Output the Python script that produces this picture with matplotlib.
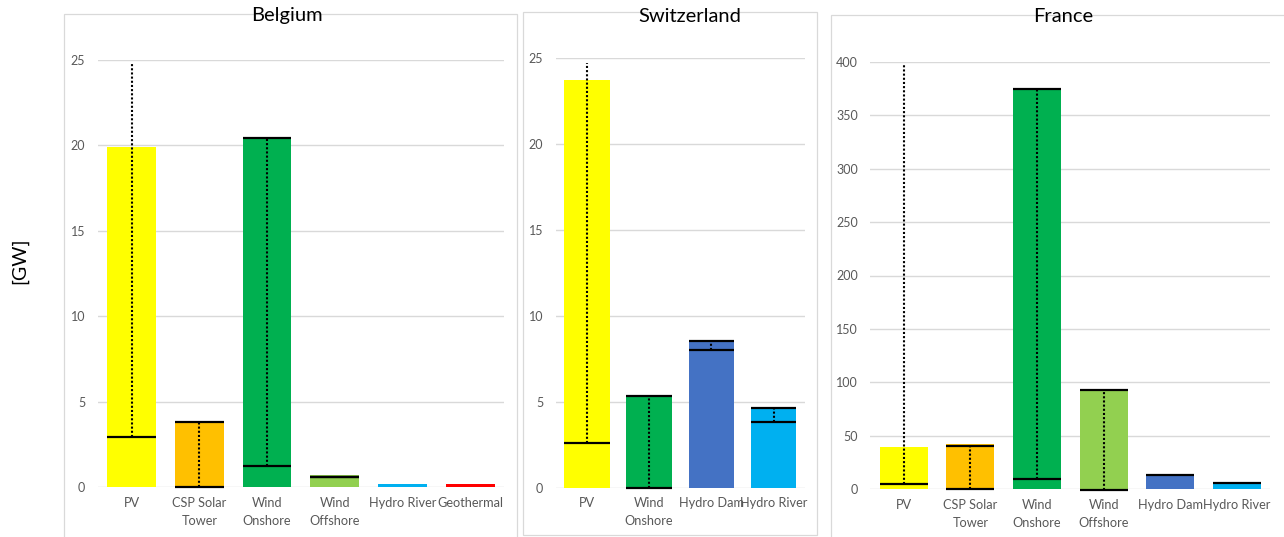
import numpy as np
import matplotlib
matplotlib.use("Agg")
import matplotlib.pyplot as plt
from matplotlib.patches import Rectangle

plt.rcParams['font.family'] = ['Lato', 'DejaVu Sans']

# ---------------- data ----------------
nan = np.nan
cats_be = ["PV", "CSP Solar\nTower", "Wind\nOnshore", "Wind\nOffshore", "Hydro River", "Geothermal"]
val_be = [19.87, 3.81, 20.41, 0.68, 0.16, 0.18]
lo_be = [2.92, 0.0, 1.24, 0.58, nan, nan]
hi_be = [24.74, 3.78, 20.41, 0.58, nan, nan]
hicap_be = [False, True, True, True, False, False]

cats_ch = ["PV", "Wind\nOnshore", "Hydro Dam", "Hydro River"]
val_ch = [23.72, 5.32, 8.55, 4.66]
lo_ch = [2.61, 0.0, 8.03, 3.85]
hi_ch = [24.7, 5.32, 8.55, 4.66]
hicap_ch = [False, True, True, True]

cats_fr = ["PV", "CSP Solar\nTower", "Wind\nOnshore", "Wind\nOffshore", "Hydro Dam", "Hydro River"]
val_fr = [39.5, 41.7, 375.3, 92.4, 13.8, 6.4]
lo_fr = [4.5, 0.0, 9.6, -1.0, 12.8, 5.5]
hi_fr = [397.8, 40.1, 375.0, 92.4, 12.8, 5.5]
hicap_fr = [False, True, True, True, False, False]

yticks_be = [0, 5, 10, 15, 20, 25]
yticks_ch = [0, 5, 10, 15, 20, 25]
yticks_fr = [0, 50, 100, 150, 200, 250, 300, 350, 400]

colors = {
    "PV": "#FFFF00",
    "CSP Solar\nTower": "#FFC000",
    "Wind\nOnshore": "#00B050",
    "Wind\nOffshore": "#92D050",
    "Hydro River": "#00B0F0",
    "Hydro Dam": "#4472C4",
    "Geothermal": "#FF0000",
}

W, H = 1284, 537
fig = plt.figure(figsize=(W / 100, H / 100), dpi=100)


def px_axes(x0, x1, ytop, ybot):
    return fig.add_axes([x0 / W, 1 - ybot / H, (x1 - x0) / W, (ybot - ytop) / H])


def panel_box(x0, x1, ytop, ybot):
    r = Rectangle((x0 / W, 1 - ybot / H), (x1 - x0) / W, (ybot - ytop) / H,
                  transform=fig.transFigure, fill=False, edgecolor="#D9D9D9",
                  lw=0.9, zorder=0)
    fig.patches.append(r)


def draw(ax, cats, vals, lo, hi, hicap, yticks, title, title_x, title_y, width=0.72):
    x = np.arange(len(cats))
    ax.bar(x, vals, width=width, color=[colors[c] for c in cats], zorder=2)
    for i in range(len(cats)):
        if not np.isnan(lo[i]):
            ax.hlines(lo[i], i - width / 2, i + width / 2, color="black", lw=1.6,
                      zorder=4, clip_on=False)
        if hicap[i] and not np.isnan(hi[i]):
            ax.hlines(hi[i], i - width / 2, i + width / 2, color="black", lw=1.6,
                      zorder=4, clip_on=False)
        if not np.isnan(lo[i]) and not np.isnan(hi[i]) and hi[i] > lo[i]:
            ax.vlines(i, lo[i], hi[i], color="black", lw=1.5,
                      linestyles=(0, (1, 1)), zorder=3, clip_on=False)
    ax.set_xlim(-0.5, len(cats) - 0.5)
    ax.set_ylim(yticks[0], yticks[-1])
    ax.set_yticks(yticks)
    ax.set_xticks(x)
    ax.set_xticklabels(cats, fontsize=9.2, color="#595959", linespacing=1.6)
    ax.tick_params(axis="y", length=0, pad=9, labelsize=9, labelcolor="#595959")
    ax.tick_params(axis="x", length=0, pad=7)
    for s in ax.spines.values():
        s.set_visible(False)
    ax.yaxis.grid(True, color="#D9D9D9", lw=1.0)
    ax.set_axisbelow(True)
    fig.text(title_x / W, 1 - title_y / H, title, ha="center", va="center",
             fontsize=14.5, color="black")


panel_box(64, 517, 13.7, 545)
panel_box(523, 817, 12.3, 535)
panel_box(831, 1300, 15.4, 545)

ax_be = px_axes(97.7, 504, 59.6, 487)
draw(ax_be, cats_be, val_be, lo_be, hi_be, hicap_be, yticks_be, "Belgium", 287, 16)

ax_ch = px_axes(555.7, 804.7, 58.2, 487.7)
draw(ax_ch, cats_ch, val_ch, lo_ch, hi_ch, hicap_ch, yticks_ch, "Switzerland", 690, 16, width=0.73)

ax_fr = px_axes(870.3, 1270.3, 62, 489)
draw(ax_fr, cats_fr, val_fr, lo_fr, hi_fr, hicap_fr, yticks_fr, "France", 1063, 16)

fig.text(20 / W, 1 - 261 / H, "[GW]", rotation=90, ha="center", va="center",
         fontsize=14, color="black")

fig.savefig("out.png", dpi=100, facecolor="white")
